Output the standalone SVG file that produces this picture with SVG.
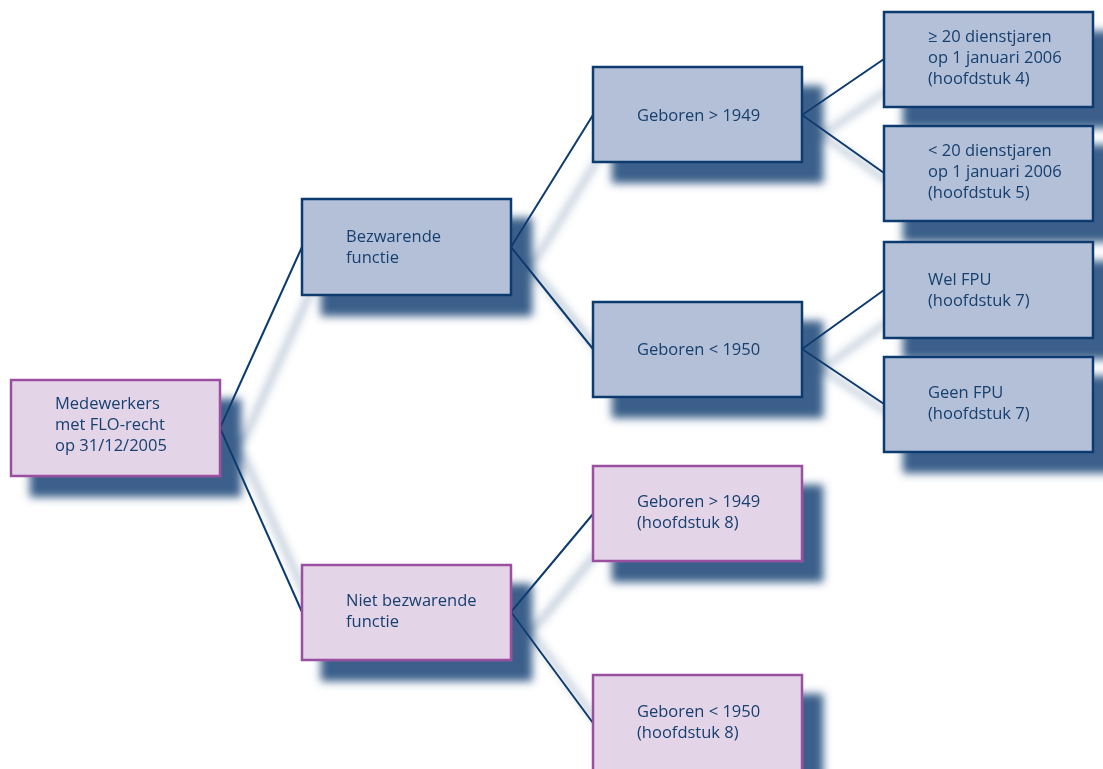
<svg xmlns="http://www.w3.org/2000/svg" width="1103" height="769" viewBox="0 0 1103 769">
  <style>
    .blue rect { fill: #b3c0d8; stroke: #0b3b6f; stroke-width: 2.5; }
    .pink rect { fill: #e4d4e8; stroke: #9b4fa1; stroke-width: 2.5; }
    text { font-family: "Open Sans", "Noto Sans", sans-serif; font-size: 16.5px; fill: #173f6e; }
    #connectors line { stroke: #0b3b6f; stroke-width: 2; stroke-linecap: round; }
  </style>
  <defs>
    <!-- soft drop shadow cast down-right by boxes and lines -->
    <filter id="shadow" x="-10%" y="-10%" width="120%" height="120%">
      <feGaussianBlur in="SourceAlpha" stdDeviation="4.5" result="blur"/>
      <feOffset in="blur" dx="20" dy="20" result="off"/>
      <feFlood flood-color="#3a5f8a"/>
      <feComposite in2="off" operator="in" result="shade"/>
      <feMerge>
        <feMergeNode in="shade"/>
        <feMergeNode in="SourceGraphic"/>
      </feMerge>
    </filter>
  </defs>
  <rect width="1103" height="769" fill="#ffffff"/>
  <g filter="url(#shadow)">
    <g id="connectors">
      <line x1="220" y1="428" x2="302" y2="247"/>
      <line x1="220" y1="428" x2="302" y2="612"/>
      <line x1="511" y1="247" x2="593" y2="115"/>
      <line x1="511" y1="247" x2="593" y2="349"/>
      <line x1="511" y1="612" x2="593" y2="514"/>
      <line x1="511" y1="612" x2="593" y2="723"/>
      <line x1="802" y1="115" x2="884" y2="59"/>
      <line x1="802" y1="115" x2="884" y2="173"/>
      <line x1="802" y1="349" x2="884" y2="290"/>
      <line x1="802" y1="349" x2="884" y2="404"/>
    </g>

    <g id="root" class="pink">
      <rect x="11" y="380" width="209" height="96"/>
      <text x="55" y="409">Medewerkers</text>
      <text x="55" y="430">met FLO-recht</text>
      <text x="55" y="451">op 31/12/2005</text>
    </g>

    <g id="bezwarend" class="blue">
      <rect x="302" y="199" width="209" height="96"/>
      <text x="346" y="242">Bezwarende</text>
      <text x="346" y="263">functie</text>
    </g>

    <g id="niet-bezwarend" class="pink">
      <rect x="302" y="565" width="209" height="95"/>
      <text x="346" y="606">Niet bezwarende</text>
      <text x="346" y="627">functie</text>
    </g>

    <g id="bezw-na-1949" class="blue">
      <rect x="593" y="67" width="209" height="95"/>
      <text x="637" y="121">Geboren &gt; 1949</text>
    </g>

    <g id="bezw-voor-1950" class="blue">
      <rect x="593" y="302" width="209" height="95"/>
      <text x="637" y="355">Geboren &lt; 1950</text>
    </g>

    <g id="niet-na-1949" class="pink">
      <rect x="593" y="466" width="209" height="95"/>
      <text x="637" y="507">Geboren &gt; 1949</text>
      <text x="637" y="528">(hoofdstuk 8)</text>
    </g>

    <g id="niet-voor-1950" class="pink">
      <rect x="593" y="675" width="209" height="96"/>
      <text x="637" y="717">Geboren &lt; 1950</text>
      <text x="637" y="738">(hoofdstuk 8)</text>
    </g>

    <g id="h4" class="blue">
      <rect x="884" y="12" width="209" height="95"/>
      <text x="928" y="42">≥ 20 dienstjaren</text>
      <text x="928" y="63">op 1 januari 2006</text>
      <text x="928" y="84">(hoofdstuk 4)</text>
    </g>

    <g id="h5" class="blue">
      <rect x="884" y="126" width="209" height="95"/>
      <text x="928" y="156">&lt; 20 dienstjaren</text>
      <text x="928" y="177">op 1 januari 2006</text>
      <text x="928" y="198">(hoofdstuk 5)</text>
    </g>

    <g id="wel-fpu" class="blue">
      <rect x="884" y="242" width="209" height="96"/>
      <text x="928" y="285">Wel FPU</text>
      <text x="928" y="306">(hoofdstuk 7)</text>
    </g>

    <g id="geen-fpu" class="blue">
      <rect x="884" y="357" width="209" height="95"/>
      <text x="928" y="398">Geen FPU</text>
      <text x="928" y="419">(hoofdstuk 7)</text>
    </g>
  </g>
</svg>
